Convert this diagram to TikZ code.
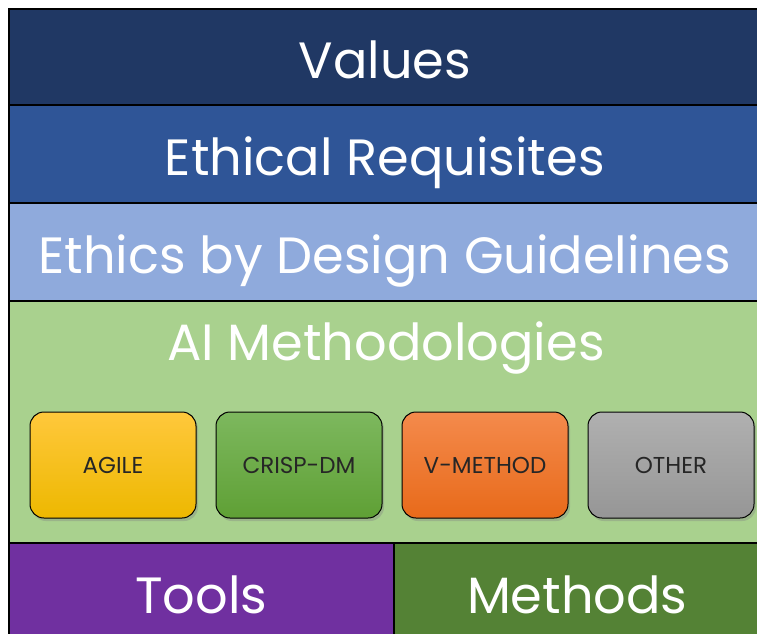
\documentclass[tikz,border=0pt]{standalone}
\usepackage{fontspec}
\setmainfont{Poppins}
\usetikzlibrary{shadows}
\definecolor{valuesblue}{HTML}{203864}
\definecolor{reqblue}{HTML}{2F5597}
\definecolor{guideblue}{HTML}{8FAADC}
\definecolor{aigreen}{HTML}{A9D18E}
\definecolor{toolspurple}{HTML}{7030A0}
\definecolor{methodsgreen}{HTML}{548235}
\definecolor{agiletop}{HTML}{FFC83C}
\definecolor{agilebot}{HTML}{EDB800}
\definecolor{crisptop}{HTML}{7DB85E}
\definecolor{crispbot}{HTML}{5FA035}
\definecolor{vtop}{HTML}{F48A4C}
\definecolor{vbot}{HTML}{E86A1A}
\definecolor{othertop}{HTML}{B0B0B0}
\definecolor{otherbot}{HTML}{969696}
\begin{document}
\begin{tikzpicture}[x=1pt,y=-1pt,
	bandtext/.style={text=white, font=\fontsize{51}{54}\selectfont, text height=44pt, text depth=0pt},
	band/.style={bandtext, draw=black, line width=1.5pt, anchor=north west, inner sep=0pt},
	methodbox/.style={draw=black, line width=1pt, rounded corners=14pt, minimum width=166pt, minimum height=106pt,
		drop shadow={opacity=0.35, shadow xshift=2pt, shadow yshift=-3pt}, text=black!85, font=\fontsize{23}{26}\selectfont},
	]
		\useasboundingbox (0,0) rectangle (757,633);
		% layers
		\node[band, fill=valuesblue, minimum width=752pt, minimum height=96pt] (values) at (8,8) {Values};
		\node[band, fill=reqblue, minimum width=752pt, minimum height=98pt] (requisites) at (8,104) {Ethical Requisites};
		\node[band, fill=guideblue, minimum width=752pt, minimum height=98pt] (guidelines) at (8,202) {Ethics by Design Guidelines};
		\node[band, fill=aigreen, minimum width=752pt, minimum height=242pt] (methodologies) at (8,300) {};
		\node[bandtext] (ailabel) at (386,338) {AI Methodologies};
		\node[band, fill=toolspurple, minimum width=385pt, minimum height=98pt] (tools) at (8,542) {Tools};
		\node[band, fill=methodsgreen, minimum width=367pt, minimum height=98pt] (methods) at (393,542) {Methods};
		% methodologies
		\node[methodbox, top color=agiletop, bottom color=agilebot] (agile) at (113,465) {AGILE};
		\node[methodbox, top color=crisptop, bottom color=crispbot] (crisp) at (299,465) {CRISP-DM};
		\node[methodbox, top color=vtop, bottom color=vbot] (vmethod) at (485,465) {V-METHOD};
		\node[methodbox, top color=othertop, bottom color=otherbot] (other) at (671,465) {OTHER};
\end{tikzpicture}
\end{document}
